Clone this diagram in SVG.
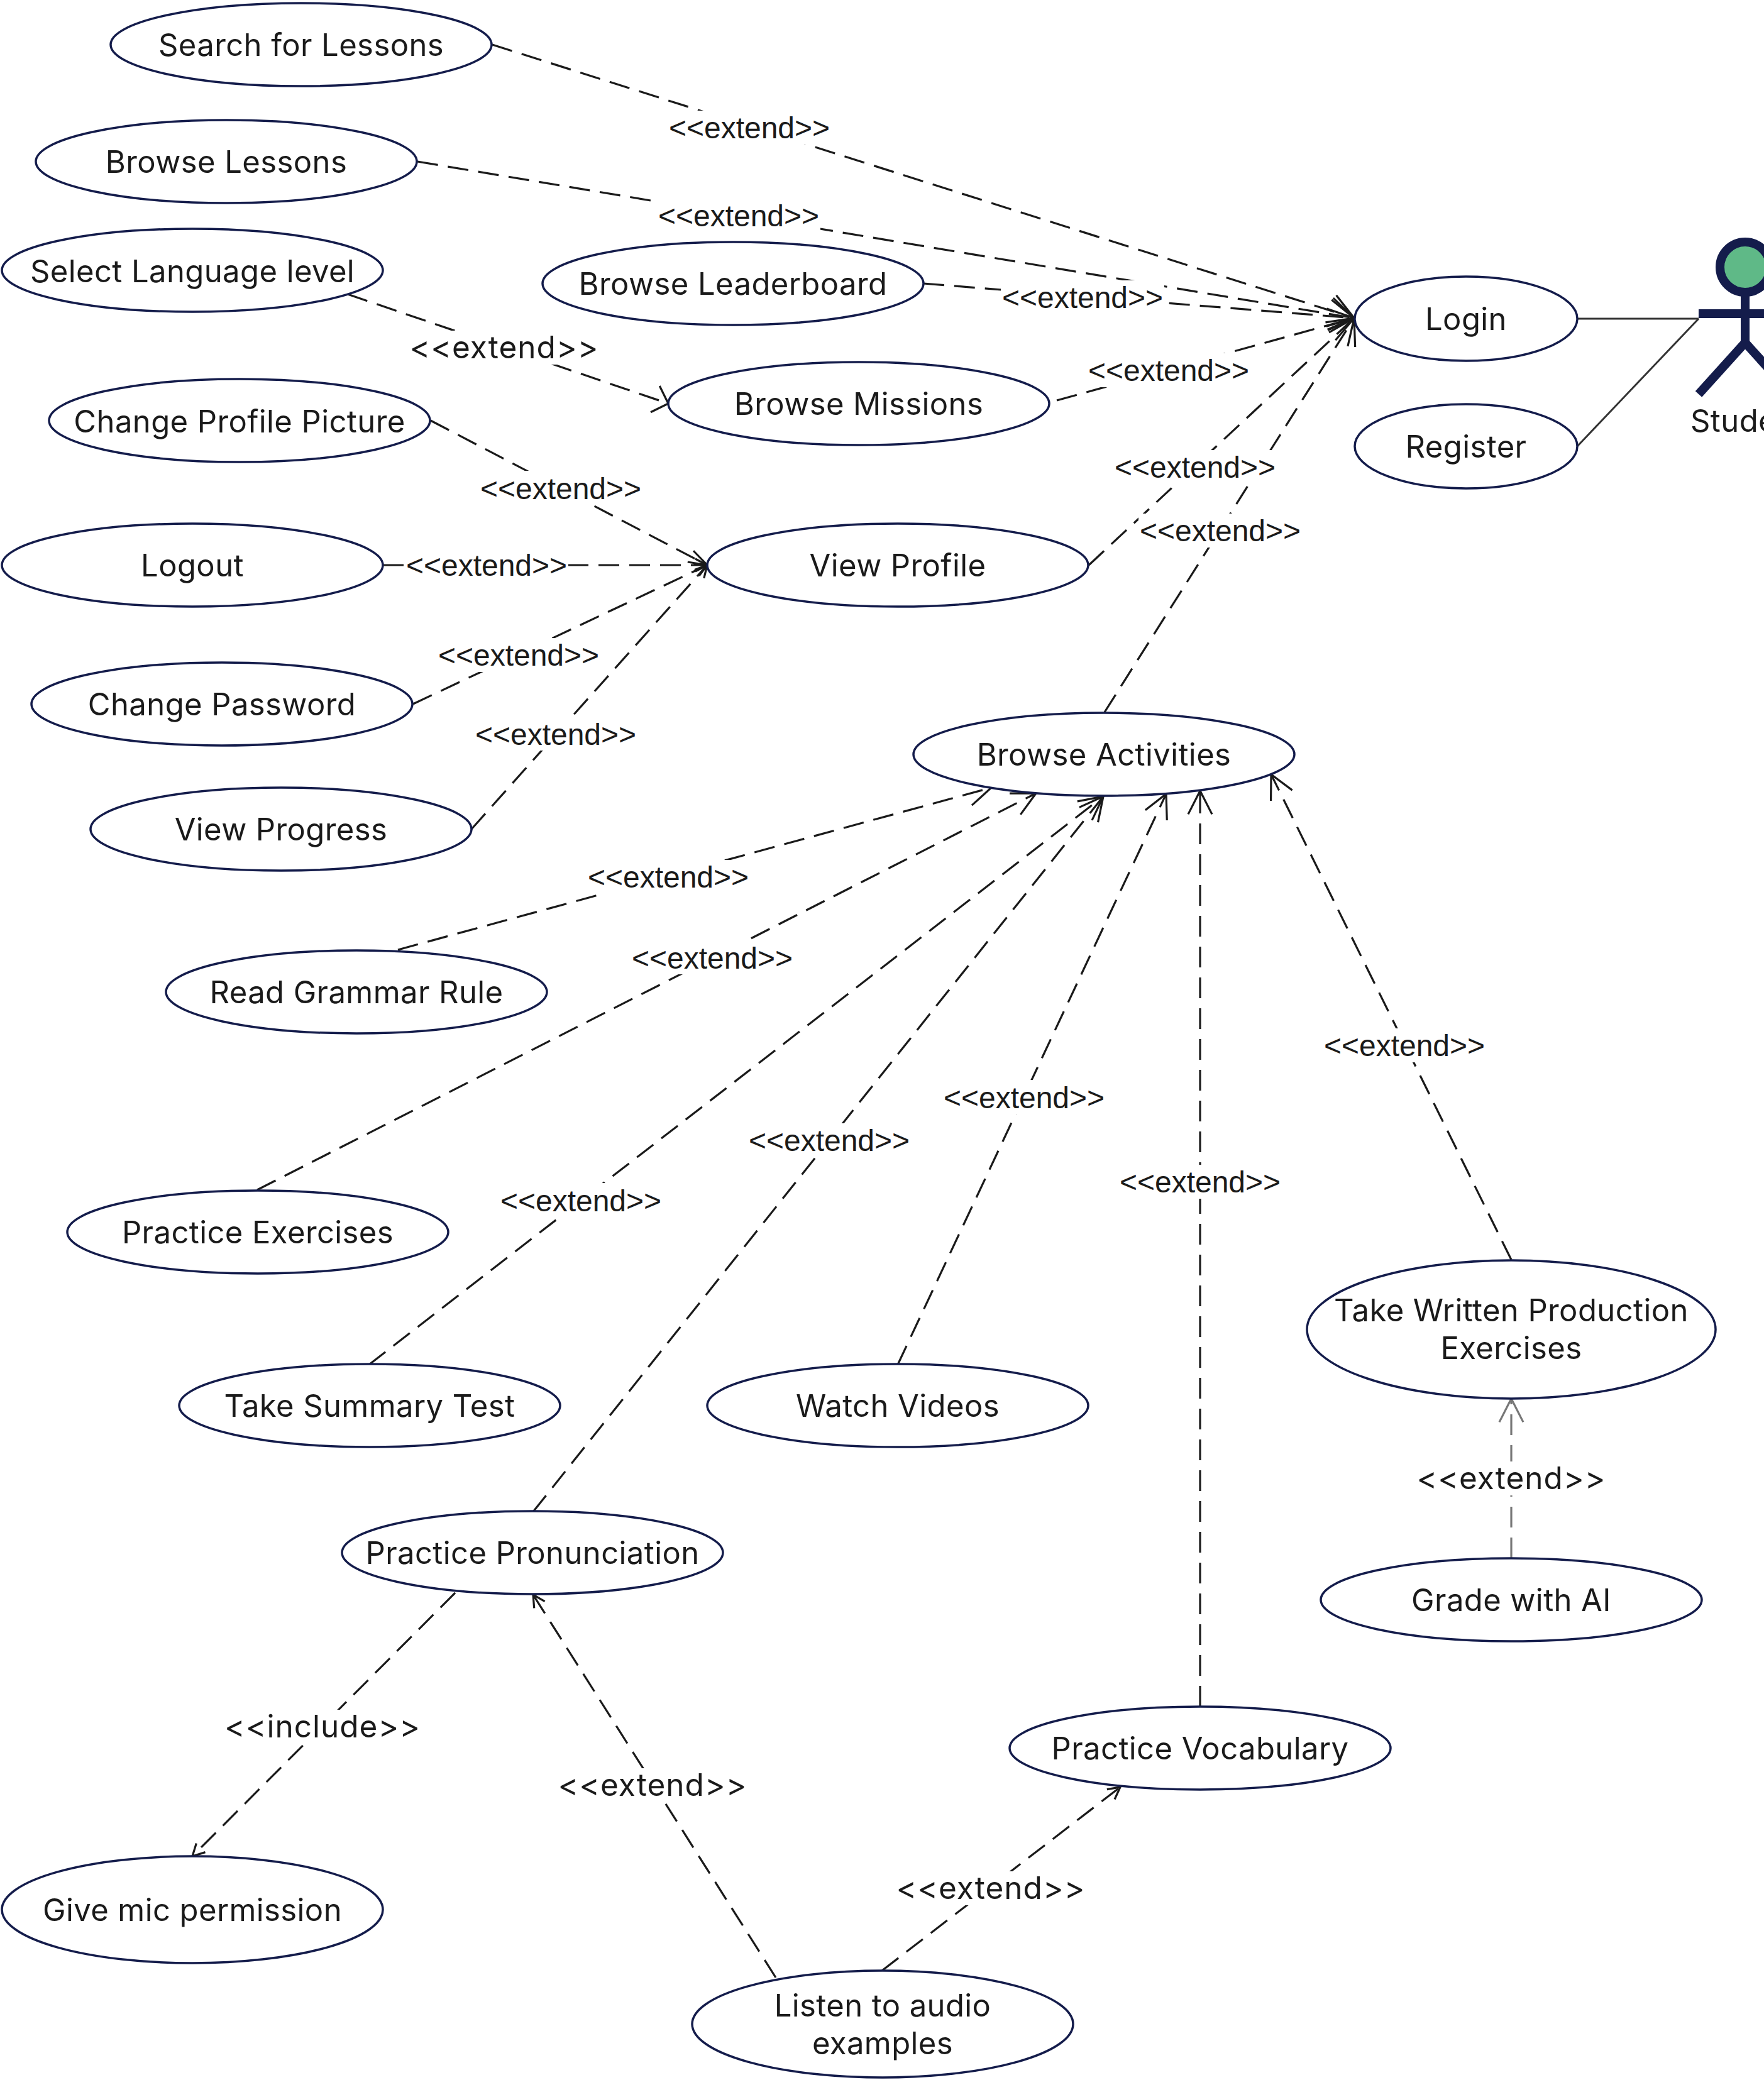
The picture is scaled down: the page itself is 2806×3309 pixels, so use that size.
<svg xmlns="http://www.w3.org/2000/svg" width="2806" height="3309" viewBox="0 0 2806 3309">
<style>
.n{fill:#fff;stroke:#141c4b;stroke-width:3.5}
.t{font-family:Inter,"Noto Sans",sans-serif;font-size:49px;fill:#1a1a1a;text-anchor:middle;letter-spacing:.4px}
.c{fill:none;stroke:#1a1a1a;stroke-width:3.2;stroke-dasharray:33 16}
.s{fill:none;stroke:#333;stroke-width:3}
.l{font-family:"Liberation Sans",Arial,sans-serif;font-size:48px;fill:#1a1a1a;text-anchor:middle}
.w{font-family:Inter,"Noto Sans",sans-serif;font-size:49.5px;fill:#1a1a1a;text-anchor:middle;letter-spacing:1px}
.b{fill:#fff;stroke:none}
.big{marker-end:url(#ab)}
.sm{marker-end:url(#as)}
.lg{marker-end:url(#al)}
</style>
<defs>
<marker id="ab" markerUnits="userSpaceOnUse" markerWidth="60" markerHeight="60" refX="50" refY="30" orient="auto"><path d="M12.6 11L50 30L12.6 49" fill="none" stroke="#1a1a1a" stroke-width="3.2"/></marker>
<marker id="al" markerUnits="userSpaceOnUse" markerWidth="60" markerHeight="60" refX="50" refY="30" orient="auto"><path d="M12 4L50 30L12 56" fill="none" stroke="#1a1a1a" stroke-width="3.2"/></marker>
<marker id="am" markerUnits="userSpaceOnUse" markerWidth="50" markerHeight="60" refX="40" refY="30" orient="auto"><path d="M18 8L40 30L18 52" fill="none" stroke="#1a1a1a" stroke-width="3.2"/></marker>
<marker id="am2" markerUnits="userSpaceOnUse" markerWidth="50" markerHeight="60" refX="40" refY="30" orient="auto"><path d="M10 20L40 30L10 40" fill="none" stroke="#1a1a1a" stroke-width="3.2"/></marker>
<marker id="as" markerUnits="userSpaceOnUse" markerWidth="40" markerHeight="40" refX="30" refY="20" orient="auto"><path d="M11 10L30 20L11 30" fill="none" stroke="#1a1a1a" stroke-width="3.2"/></marker>
<marker id="ag" markerUnits="userSpaceOnUse" markerWidth="60" markerHeight="60" refX="50" refY="30" orient="auto"><path d="M12.6 11L50 30L12.6 49" fill="none" stroke="#777" stroke-width="3.2"/></marker>
</defs>
<rect width="2806" height="3309" fill="#fff"/>
<g id="connectors">
<line class="c lg" x1="783" y1="71" x2="2154" y2="506"/>
<line class="c lg" x1="664" y1="257" x2="2154" y2="506"/>
<line class="c lg" x1="1469" y1="451" x2="2154" y2="506"/>
<line class="c lg" x1="1681" y1="637" x2="2154" y2="506"/>
<line class="c lg" x1="1732" y1="899" x2="2154" y2="506"/>
<line class="c lg" x1="1757" y1="1133" x2="2154" y2="506"/>
<line class="c" marker-end="url(#am)" x1="553" y1="468" x2="1063" y2="642"/>
<line class="c" marker-end="url(#am2)" x1="685" y1="669" x2="1125" y2="899"/>
<line class="c sm" x1="609" y1="899" x2="1125" y2="899"/>
<line class="c sm" x1="657" y1="1120" x2="1125" y2="899"/>
<line class="c sm" x1="750" y1="1319" x2="1125" y2="899"/>
<line class="c big" x1="633" y1="1511" x2="1577" y2="1253"/>
<line class="c big" x1="409" y1="1893" x2="1648" y2="1262"/>
<line class="c big" x1="587" y1="2171" x2="1755" y2="1267"/>
<line class="c big" x1="848" y1="2405" x2="1755" y2="1267"/>
<line class="c big" x1="1428" y1="2171" x2="1855" y2="1263"/>
<line class="c big" x1="1909" y1="2715" x2="1909" y2="1258"/>
<line class="c big" x1="2404" y1="2004" x2="2022" y2="1232"/>
<line x1="2404" y1="2479" x2="2404" y2="2225" fill="none" stroke="#777" stroke-width="3.2" stroke-dasharray="33 16" marker-end="url(#ag)"/>
<line class="c sm" x1="724" y1="2534" x2="306" y2="2953"/>
<line class="c sm" x1="1234" y1="3146" x2="848" y2="2537"/>
<line class="c sm" x1="1403" y1="3135" x2="1782" y2="2843"/>
<line class="s" x1="2509" y1="507" x2="2702" y2="507"/>
<line class="s" x1="2509" y1="710" x2="2702" y2="507"/>
<g id="connector-labels">
<rect class="b" x="1062" y="176" width="260" height="54"/><text class="l" x="1192" y="220">&lt;&lt;extend&gt;&gt;</text>
<rect class="b" x="1045" y="315" width="260" height="54"/><text class="l" x="1175" y="360">&lt;&lt;extend&gt;&gt;</text>
<rect class="b" x="1592" y="446" width="260" height="54"/><text class="l" x="1722" y="490">&lt;&lt;extend&gt;&gt;</text>
<rect class="b" x="1729" y="562" width="260" height="54"/><text class="l" x="1859" y="606">&lt;&lt;extend&gt;&gt;</text>
<rect class="b" x="1771" y="716" width="260" height="54"/><text class="l" x="1901" y="760">&lt;&lt;extend&gt;&gt;</text>
<rect class="b" x="1811" y="817" width="260" height="54"/><text class="l" x="1941" y="861">&lt;&lt;extend&gt;&gt;</text>
<rect class="b" x="652" y="526" width="300" height="54"/><text class="w" x="802" y="570">&lt;&lt;extend&gt;&gt;</text>
<rect class="b" x="762" y="749" width="260" height="54"/><text class="l" x="892" y="794">&lt;&lt;extend&gt;&gt;</text>
<rect class="b" x="644" y="872" width="260" height="54"/><text class="l" x="774" y="916">&lt;&lt;extend&gt;&gt;</text>
<rect class="b" x="695" y="1015" width="260" height="54"/><text class="l" x="825" y="1059">&lt;&lt;extend&gt;&gt;</text>
<rect class="b" x="754" y="1140" width="260" height="54"/><text class="l" x="884" y="1185">&lt;&lt;extend&gt;&gt;</text>
<rect class="b" x="933" y="1368" width="260" height="54"/><text class="l" x="1063" y="1412">&lt;&lt;extend&gt;&gt;</text>
<rect class="b" x="1003" y="1496" width="260" height="54"/><text class="l" x="1133" y="1541">&lt;&lt;extend&gt;&gt;</text>
<rect class="b" x="794" y="1882" width="260" height="54"/><text class="l" x="924" y="1927">&lt;&lt;extend&gt;&gt;</text>
<rect class="b" x="1189" y="1787" width="260" height="54"/><text class="l" x="1319" y="1831">&lt;&lt;extend&gt;&gt;</text>
<rect class="b" x="1499" y="1718" width="260" height="54"/><text class="l" x="1629" y="1763">&lt;&lt;extend&gt;&gt;</text>
<rect class="b" x="1779" y="1853" width="260" height="54"/><text class="l" x="1909" y="1897">&lt;&lt;extend&gt;&gt;</text>
<rect class="b" x="2104" y="1636" width="260" height="54"/><text class="l" x="2234" y="1680">&lt;&lt;extend&gt;&gt;</text>
<rect class="b" x="2254" y="2325" width="300" height="54"/><text class="w" x="2404" y="2369">&lt;&lt;extend&gt;&gt;</text>
<rect class="b" x="363" y="2720" width="300" height="54"/><text class="w" x="513" y="2764">&lt;&lt;include&gt;&gt;</text>
<rect class="b" x="888" y="2813" width="300" height="54"/><text class="w" x="1038" y="2857">&lt;&lt;extend&gt;&gt;</text>
<rect class="b" x="1426" y="2977" width="300" height="54"/><text class="w" x="1576" y="3021">&lt;&lt;extend&gt;&gt;</text>
</g>
</g>
<g id="search-for-lessons"><ellipse class="n" cx="479" cy="71" rx="303" ry="66"/><text class="t" x="479" y="89">Search for Lessons</text></g>
<g id="browse-lessons"><ellipse class="n" cx="360" cy="257" rx="303" ry="66"/><text class="t" x="360" y="275">Browse Lessons</text></g>
<g id="select-language-level"><ellipse class="n" cx="306" cy="430" rx="303" ry="66"/><text class="t" x="306" y="449">Select Language level</text></g>
<g id="browse-leaderboard"><ellipse class="n" cx="1166" cy="451" rx="303" ry="66"/><text class="t" x="1166" y="469">Browse Leaderboard</text></g>
<g id="browse-missions"><ellipse class="n" cx="1366" cy="642" rx="303" ry="66"/><text class="t" x="1366" y="660">Browse Missions</text></g>
<g id="change-profile-picture"><ellipse class="n" cx="381" cy="669" rx="303" ry="66"/><text class="t" x="381" y="688">Change Profile Picture</text></g>
<g id="view-profile"><ellipse class="n" cx="1428" cy="899" rx="303" ry="66"/><text class="t" x="1428" y="917">View Profile</text></g>
<g id="logout"><ellipse class="n" cx="306" cy="899" rx="303" ry="66"/><text class="t" x="306" y="917">Logout</text></g>
<g id="change-password"><ellipse class="n" cx="353" cy="1120" rx="303" ry="66"/><text class="t" x="353" y="1138">Change Password</text></g>
<g id="view-progress"><ellipse class="n" cx="447" cy="1319" rx="303" ry="66"/><text class="t" x="447" y="1337">View Progress</text></g>
<g id="login"><ellipse class="n" cx="2332" cy="507" rx="177" ry="67"/><text class="t" x="2332" y="525">Login</text></g>
<g id="register"><ellipse class="n" cx="2332" cy="710" rx="177" ry="67"/><text class="t" x="2332" y="728">Register</text></g>
<g id="browse-activities"><ellipse class="n" cx="1756" cy="1200" rx="303" ry="66"/><text class="t" x="1756" y="1218">Browse Activities</text></g>
<g id="read-grammar-rule"><ellipse class="n" cx="567" cy="1578" rx="303" ry="66"/><text class="t" x="567" y="1596">Read Grammar Rule</text></g>
<g id="practice-exercises"><ellipse class="n" cx="410" cy="1960" rx="303" ry="66"/><text class="t" x="410" y="1978">Practice Exercises</text></g>
<g id="take-summary-test"><ellipse class="n" cx="588" cy="2236" rx="303" ry="66"/><text class="t" x="588" y="2254">Take Summary Test</text></g>
<g id="watch-videos"><ellipse class="n" cx="1428" cy="2236" rx="303" ry="66"/><text class="t" x="1428" y="2254">Watch Videos</text></g>
<g id="take-written"><ellipse class="n" cx="2404" cy="2115" rx="325" ry="110"/><text class="t" x="2404" y="2102">Take Written Production</text><text class="t" x="2404" y="2162">Exercises</text></g>
<g id="grade-with-ai"><ellipse class="n" cx="2404" cy="2545" rx="303" ry="66"/><text class="t" x="2404" y="2563">Grade with AI</text></g>
<g id="practice-pronunciation"><ellipse class="n" cx="847" cy="2470" rx="303" ry="66"/><text class="t" x="847" y="2488">Practice Pronunciation</text></g>
<g id="practice-vocabulary"><ellipse class="n" cx="1909" cy="2781" rx="303" ry="66"/><text class="t" x="1909" y="2799">Practice Vocabulary</text></g>
<g id="give-mic-permission"><ellipse class="n" cx="306" cy="3038" rx="303" ry="85"/><text class="t" x="306" y="3056">Give mic permission</text></g>
<g id="listen-to-audio"><ellipse class="n" cx="1404" cy="3220" rx="303" ry="85"/><text class="t" x="1404" y="3208">Listen to audio</text><text class="t" x="1404" y="3268">examples</text></g>
<g id="student">
<ellipse cx="2776" cy="425" rx="40" ry="40" fill="#5fb987" stroke="#141c4b" stroke-width="14"/>
<path d="M2776 465V545M2702 499H2850M2702 627L2776 545L2850 627" fill="none" stroke="#141c4b" stroke-width="14"/>
<text class="t" style="text-anchor:start" x="2689" y="687">Student</text>
</g>
</svg>
